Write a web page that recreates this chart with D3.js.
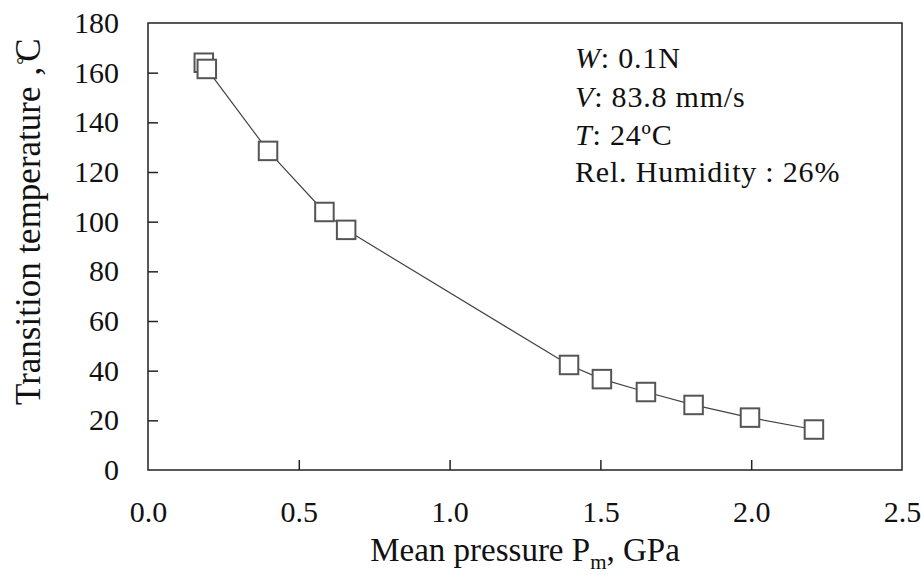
<!DOCTYPE html>
<html>
<head>
<meta charset="utf-8">
<script src="https://cdn.jsdelivr.net/npm/d3@7/dist/d3.min.js"></script>
</head>
<body style="margin:0;padding:0;background:#fff;">
<svg id="chart" width="921" height="575" style="display:block;background:#fff;"></svg>
<script>
// Mean contact pressure (GPa) and measured transition temperature (°C)
const pressure = [0.185, 0.195, 0.398, 0.585, 0.657, 1.396, 1.505, 1.651, 1.809, 1.996, 2.208];
const temperature = [164.0, 161.5, 128.5, 103.9, 96.7, 42.3, 36.6, 31.4, 26.2, 21.1, 16.3];

const xTicks = [0.0, 0.5, 1.0, 1.5, 2.0, 2.5];
const yTicks = [0, 20, 40, 60, 80, 100, 120, 140, 160, 180];

const conditions = [
  { key: "W", value: ": 0.1N" },
  { key: "V", value: ": 83.8 mm/s" },
  { key: "T", value: ": 24ºC" },
  { key: "", value: "Rel. Humidity : 26%" }
];

const SERIF = "'Liberation Serif', 'Times New Roman', serif";
const svg = d3.select("#chart");
const margin = { left: 148, right: 19, top: 23, bottom: 105 };
const W = 921, H = 575;

const x = d3.scaleLinear().domain([0, 2.5]).range([margin.left, W - margin.right]);
const y = d3.scaleLinear().domain([0, 180]).range([H - margin.bottom, margin.top]);

// Plot frame
svg.append("rect")
  .attr("x", x(0)).attr("y", y(180))
  .attr("width", x(2.5) - x(0)).attr("height", y(0) - y(180))
  .attr("fill", "none").attr("stroke", "#222").attr("stroke-width", 1.5);

// Axes with inward ticks
const xAxis = svg.append("g")
  .attr("transform", `translate(0,${y(0)})`)
  .call(d3.axisBottom(x).tickValues(xTicks).tickFormat(d3.format(".1f"))
    .tickSizeInner(-10).tickSizeOuter(0).tickPadding(31));
const yAxis = svg.append("g")
  .attr("transform", `translate(${x(0)},0)`)
  .call(d3.axisLeft(y).tickValues(yTicks).tickFormat(d3.format("d"))
    .tickSizeInner(-10).tickSizeOuter(0).tickPadding(29));

[xAxis, yAxis].forEach(g => {
  g.select(".domain").remove();
  g.selectAll(".tick line").attr("stroke", "#222").attr("stroke-width", 1.5);
  g.selectAll(".tick text")
    .style("font-family", SERIF)
    .style("font-size", "30px").style("fill", "#111");
});
// frame edges already drawn; drop the ticks that would sit on them
xAxis.selectAll(".tick").filter(d => d === 0 || d === 2.5).select("line").remove();
yAxis.selectAll(".tick").filter(d => d === 0 || d === 180).select("line").remove();

// Connecting line
const pts = pressure.map((p, i) => [p, temperature[i]]);
svg.append("path")
  .datum(pts)
  .attr("fill", "none").attr("stroke", "#444").attr("stroke-width", 1.2)
  .attr("d", d3.line().x(d => x(d[0])).y(d => y(d[1])));

// Square markers
const s = 18.5;
svg.append("g").selectAll("rect").data(pts).join("rect")
  .attr("x", d => x(d[0]) - s / 2).attr("y", d => y(d[1]) - s / 2)
  .attr("width", s).attr("height", s)
  .attr("fill", "#fff").attr("stroke", "#555").attr("stroke-width", 2);

// Axis titles
const yt = svg.append("text")
  .attr("transform", "translate(40,405) rotate(-90)")
  .attr("text-anchor", "start")
  .style("font-family", SERIF).style("font-size", "35px").style("fill", "#111");
yt.append("tspan").text("Transition temperature");
yt.append("tspan").attr("dx", 11).text(",");
yt.append("tspan").attr("dx", 2).attr("dy", -9).style("font-size", "20px").text("°");
yt.append("tspan").attr("dx", -5).attr("dy", 9).text("C");

const xt = svg.append("text")
  .attr("x", 525).attr("y", 561)
  .attr("text-anchor", "middle")
  .style("font-family", SERIF).style("font-size", "33px").style("fill", "#111");
xt.append("tspan").text("Mean pressure P");
xt.append("tspan").style("font-size", "21px").attr("dy", 8).text("m");
xt.append("tspan").attr("dy", -8).text(", GPa");

// Test conditions annotation
const ann = svg.append("g").attr("transform", "translate(575,0)");
const baselines = [68, 107, 145, 182];
conditions.forEach((c, i) => {
  const t = ann.append("text").attr("x", 0).attr("y", baselines[i])
    .style("font-family", SERIF).style("font-size", "30px")
    .style("letter-spacing", "0.8px").style("fill", "#111");
  if (c.key) t.append("tspan").style("font-style", "italic").text(c.key);
  t.append("tspan").text(c.value);
});
</script>
</body>
</html>
